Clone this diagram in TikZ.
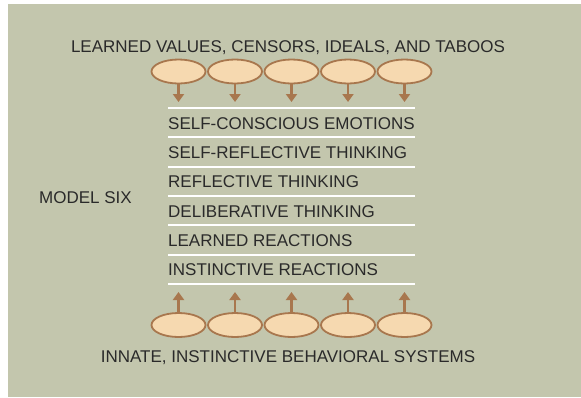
\documentclass[tikz,border=0pt]{standalone}
\usepackage{fontspec}
\setmainfont{Liberation Sans}
\usetikzlibrary{arrows.meta,shapes.geometric}
\definecolor{bg}{HTML}{C3C6AD}
\definecolor{peach}{HTML}{F6D9B0}
\definecolor{brownc}{HTML}{A8774E}
\definecolor{txt}{HTML}{2A2A2A}
\tikzset{
  lbl/.style={font=\fontsize{17}{20}\selectfont, text=txt, inner sep=0pt},
  oval/.style={ellipse, draw=brownc, fill=peach, line width=1.8pt, minimum width=54pt, minimum height=24pt, inner sep=0pt},
  arr/.style={draw=brownc, line width=2.6pt, -{Triangle[width=11pt,length=8pt]}},
  sep/.style={draw=white, line width=2pt}
}
\begin{document}
\begin{tikzpicture}[x=1pt,y=-1pt]
\useasboundingbox (0,0) rectangle (581,397);
\fill[white] (0,0) rectangle (581,397);
\fill[bg] (8,4) rectangle (581,397);
% titles
\node[lbl, anchor=base] (top) at (288,52.5) {LEARNED VALUES, CENSORS, IDEALS, AND TABOOS};
\node[lbl, anchor=base] (bot) at (288,362) {INNATE, INSTINCTIVE BEHAVIORAL SYSTEMS};
\node[lbl, anchor=base west] (model) at (39,203) {MODEL SIX};
% ovals and arrows
\foreach \i in {0,...,4} {
  \node[oval] (t\i) at (178.5+56.5*\i,71.5) {};
  \coordinate (ta\i) at (178.5+56.5*\i,102);
  \draw[arr] (t\i.south) -- (ta\i);
  \node[oval] (b\i) at (178.5+56.5*\i,325) {};
  \coordinate (ba\i) at (178.5+56.5*\i,292);
  \draw[arr] (b\i.north) -- (ba\i);
}
% separator lines
\foreach \k in {0,...,6} {
  \coordinate (l\k) at (168,108+29.33*\k);
  \coordinate (r\k) at (415,108+29.33*\k);
  \draw[sep] (l\k) -- (r\k);
}
% levels
\node[lbl, anchor=base west] (s1) at (168,129) {SELF-CONSCIOUS EMOTIONS};
\node[lbl, anchor=base west] (s2) at (168,158.3) {SELF-REFLECTIVE THINKING};
\node[lbl, anchor=base west] (s3) at (168,187.7) {REFLECTIVE THINKING};
\node[lbl, anchor=base west] (s4) at (168,217) {DELIBERATIVE THINKING};
\node[lbl, anchor=base west] (s5) at (168,246.3) {LEARNED REACTIONS};
\node[lbl, anchor=base west] (s6) at (168,275.7) {INSTINCTIVE REACTIONS};
\end{tikzpicture}
\end{document}
